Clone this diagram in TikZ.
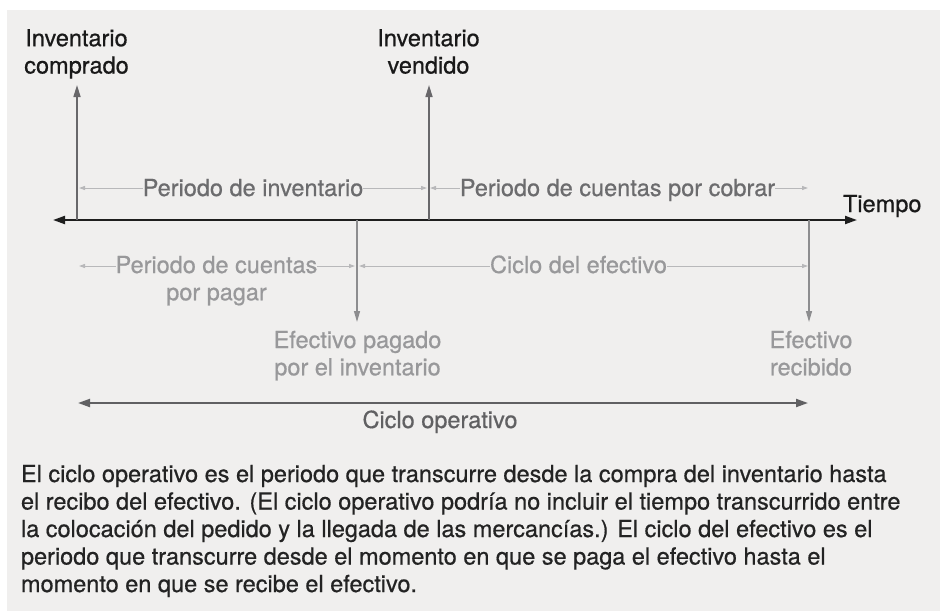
\documentclass[tikz,border=0pt]{standalone}
\usepackage{fontspec}
\setmainfont{TeX Gyre Heros}[FakeBold=0.6]
\usetikzlibrary{arrows.meta}
\definecolor{bg}{RGB}{240,239,238}
\definecolor{axiscol}{RGB}{30,30,30}
\definecolor{upcol}{RGB}{104,103,106}
\definecolor{downcol}{RGB}{141,141,143}
\definecolor{dimcol}{RGB}{184,184,186}
\definecolor{darklab}{RGB}{108,108,110}
\definecolor{lightlab}{RGB}{152,152,154}
\definecolor{headcol}{RGB}{25,25,25}
\definecolor{opcol}{RGB}{96,96,98}
\definecolor{paracol}{RGB}{35,35,35}
\begin{document}
\begin{tikzpicture}[x=1pt,y=-1pt,
  every node/.style={inner sep=0pt,outer sep=0pt,font=\fontsize{23.5}{27.3}\selectfont},
  axisline/.style={draw=axiscol,line width=2pt,<->,>={Triangle[length=12pt,width=8pt]}},
  uparrow/.style={draw=upcol,line width=1.6pt,->,>={Triangle[length=12pt,width=7pt]}},
  downarrow/.style={draw=downcol,line width=1.3pt,->,>={Triangle[length=11pt,width=6pt]}},
  dimline/.style={draw=dimcol,line width=1pt,<->,>={Triangle[length=6pt,width=4pt]}},
  opline/.style={draw=opcol,line width=2pt,<->,>={Triangle[length=12pt,width=8pt]}},
  headlab/.style={text=headcol,align=center,anchor=base},
  darkdim/.style={text=darklab,fill=bg,anchor=base,align=center},
  lightdim/.style={text=lightlab,fill=bg,anchor=base,align=center},
  eventlab/.style={text=lightlab,anchor=base,align=center}]
\useasboundingbox (0,0) rectangle (940,611);
\fill[bg] (7,10) rectangle (940,611);

% coordinates on the time axis
\coordinate (axL) at (53,220);
\coordinate (axR) at (857,220);
\coordinate (buy) at (77,220);
\coordinate (buyTip) at (77,85);
\coordinate (sell) at (429,220);
\coordinate (sellTip) at (429,85);
\coordinate (pay) at (357,220);
\coordinate (payTip) at (357,322);
\coordinate (recv) at (809,220);
\coordinate (recvTip) at (809,322);

% dimension-line end points
\coordinate (invL) at (79,188);
\coordinate (invR) at (427,188);
\coordinate (cobL) at (430,188);
\coordinate (cobR) at (808,188);
\coordinate (pagL) at (79,266);
\coordinate (pagR) at (355,266);
\coordinate (efeL) at (359,266);
\coordinate (efeR) at (808,266);
\coordinate (opL) at (78,403);
\coordinate (opR) at (808,403);

% axis and event arrows
\draw[axisline] (axL) -- (axR);
\draw[uparrow] (buy) -- (buyTip);
\draw[uparrow] (sell) -- (sellTip);
\draw[downarrow] (pay) -- (payTip);
\draw[downarrow] (recv) -- (recvTip);

% period lines
\draw[dimline] (invL) -- (invR);
\draw[dimline] (cobL) -- (cobR);
\draw[dimline] (pagL) -- (pagR);
\draw[dimline] (efeL) -- (efeR);
\draw[opline] (opL) -- (opR);

% labels (base anchor of a multi-line node = baseline of its last line)
\node[headlab] (tbuy) at (76.5,73.5) {Inventario\\comprado};
\node[headlab] (tsell) at (428.5,73.5) {Inventario\\vendido};
\node[text=headcol,anchor=base west] (tiempo) at (843,212) {Tiempo};
\node[darkdim] (tinv) at (253,196) {Periodo de inventario};
\node[darkdim] (tcob) at (617.5,196) {Periodo de cuentas por cobrar};
\node[lightdim] (tpag) at (216.5,300.3) {Periodo de cuentas\\por pagar};
\node[lightdim] (tefe) at (578.5,273) {Ciclo del efectivo};
\node[eventlab] (tpay) at (357.5,375.3) {Efectivo pagado\\por el inventario};
\node[eventlab] (trecv) at (811,375.3) {Efectivo\\recibido};
\node[text=opcol,anchor=base] (top) at (440,428) {Ciclo operativo};

\node[text=paracol,anchor=base west,align=left,
      font=\fontsize{23.5}{27.5}\selectfont] (para) at (21,592)
{El ciclo operativo es el periodo que transcurre desde la compra del inventario hasta\\
el recibo del efectivo. (El ciclo operativo podría no incluir el tiempo transcurrido entre\\
la colocación del pedido y la llegada de las mercancías.) El ciclo del efectivo es el\\
periodo que transcurre desde el momento en que se paga el efectivo hasta el\\
momento en que se recibe el efectivo.};
\end{tikzpicture}
\end{document}
